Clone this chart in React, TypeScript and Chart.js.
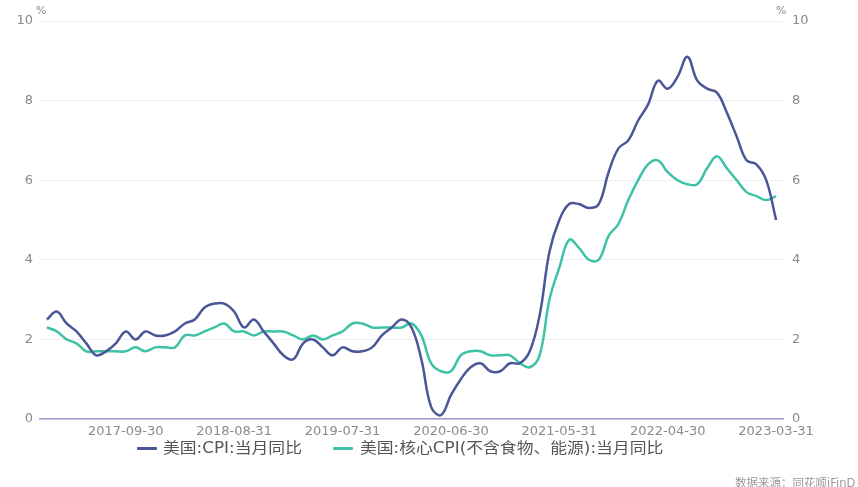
import React, { useEffect, useRef } from "react";
import { Chart, registerables } from "chart.js";

Chart.register(...registerables);

// Monthly categories: 2017-01 .. 2023-03 (month-end dates)
const startYear = 2017;
const monthCount = 75;
const categories: string[] = [];
for (let i = 0; i < monthCount; i++) {
  const y = startYear + Math.floor(i / 12);
  const m = (i % 12) + 1;
  const last = new Date(Date.UTC(y, m, 0)).getUTCDate();
  categories.push(`${y}-${String(m).padStart(2, "0")}-${String(last).padStart(2, "0")}`);
}

const tickLabels = ["2017-09-30", "2018-08-31", "2019-07-31", "2020-06-30", "2021-05-31", "2022-04-30", "2023-03-31"];
const yTicks = [0, 2, 4, 6, 8, 10];

const cpi = [
  2.5, 2.7, 2.4, 2.2, 1.9, 1.6, 1.7, 1.9, 2.2, 2.0, 2.2, 2.1,
  2.1, 2.2, 2.4, 2.5, 2.8, 2.9, 2.9, 2.7, 2.3, 2.5, 2.2, 1.9,
  1.6, 1.5, 1.9, 2.0, 1.8, 1.6, 1.8, 1.7, 1.7, 1.8, 2.1, 2.3,
  2.5, 2.3, 1.5, 0.3, 0.1, 0.6, 1.0, 1.3, 1.4, 1.2, 1.2, 1.4,
  1.4, 1.7, 2.6, 4.2, 5.0, 5.4, 5.4, 5.3, 5.4, 6.2, 6.8, 7.0,
  7.5, 7.9, 8.5, 8.3, 8.6, 9.1, 8.5, 8.3, 8.2, 7.7, 7.1, 6.5,
  6.4, 6.0, 5.0,
];

const coreCpi = [
  2.3, 2.2, 2.0, 1.9, 1.7, 1.7, 1.7, 1.7, 1.7, 1.8, 1.7, 1.8,
  1.8, 1.8, 2.1, 2.1, 2.2, 2.3, 2.4, 2.2, 2.2, 2.1, 2.2, 2.2,
  2.2, 2.1, 2.0, 2.1, 2.0, 2.1, 2.2, 2.4, 2.4, 2.3, 2.3, 2.3,
  2.3, 2.4, 2.1, 1.4, 1.2, 1.2, 1.6, 1.7, 1.7, 1.6, 1.6, 1.6,
  1.4, 1.3, 1.6, 3.0, 3.8, 4.5, 4.3, 4.0, 4.0, 4.6, 4.9, 5.5,
  6.0, 6.4, 6.5, 6.2, 6.0, 5.9, 5.9, 6.3, 6.6, 6.3, 6.0, 5.7,
  5.6, 5.5, 5.6,
];

const seriesNames = ["美国:CPI:当月同比", "美国:核心CPI(不含食物、能源):当月同比"];
const seriesColors = ["#4b5698", "#3ec2a6"];
const sourceText = "数据来源：同花顺iFinD";

const FONT = "'DejaVu Sans', 'Noto Sans CJK SC', sans-serif";

export default function App() {
  const ref = useRef<HTMLCanvasElement | null>(null);

  useEffect(() => {
    if (!ref.current) return;
    const tickIdx = tickLabels.map((t) => categories.indexOf(t));
    const chart = new Chart(ref.current, {
      type: "line",
      data: {
        datasets: [
          {
            label: seriesNames[0],
            data: cpi.map((v, i) => ({ x: i, y: v })),
            borderColor: seriesColors[0],
            backgroundColor: seriesColors[0],
            borderWidth: 2.5,
            pointRadius: 0,
            tension: 0.4,
            yAxisID: "y",
          },
          {
            label: seriesNames[1],
            data: coreCpi.map((v, i) => ({ x: i, y: v })),
            borderColor: seriesColors[1],
            backgroundColor: seriesColors[1],
            borderWidth: 2.5,
            pointRadius: 0,
            tension: 0.4,
            yAxisID: "y1",
          },
        ],
      },
      options: {
        responsive: false,
        animation: false,
        layout: { padding: { top: 21, left: 0, right: 0, bottom: 0 } },
        plugins: { legend: { display: false }, tooltip: { enabled: false } },
        scales: {
          x: {
            type: "linear",
            min: -0.7,
            max: monthCount - 1 + 0.7,
            grid: { display: false, drawTicks: false },
            border: { display: true, color: "#9a9dc4", width: 1.5 },
            ticks: {
              padding: 5,
              color: "#8a8a8a",
              font: { size: 13, family: FONT },
              maxRotation: 0,
              autoSkip: false,
              callback: (v: any) => categories[Number(v)] ?? "",
            },
            afterBuildTicks: (s: any) => {
              s.ticks = tickIdx.map((v) => ({ value: v }));
            },
            afterFit: (s: any) => {
              s.height = 68;
            },
          },
          y: {
            position: "left",
            min: 0,
            max: 10,
            grid: { color: "#eceef5", lineWidth: 1, drawTicks: false },
            border: { display: false },
            ticks: {
              padding: 7,
              color: "#8a8a8a",
              font: { size: 13, family: FONT },
              stepSize: 2,
            },
            afterBuildTicks: (s: any) => {
              s.ticks = yTicks.map((v) => ({ value: v }));
            },
            afterFit: (s: any) => {
              s.width = 40;
            },
          },
          y1: {
            position: "right",
            min: 0,
            max: 10,
            grid: { display: false, drawTicks: false },
            border: { display: false },
            ticks: {
              padding: 9,
              color: "#8a8a8a",
              font: { size: 13, family: FONT },
              stepSize: 2,
            },
            afterBuildTicks: (s: any) => {
              s.ticks = yTicks.map((v) => ({ value: v }));
            },
            afterFit: (s: any) => {
              s.width = 75;
            },
          },
        },
      },
    });
    return () => chart.destroy();
  }, []);

  const textStyle: React.CSSProperties = {
    position: "absolute",
    fontSize: 15,
    lineHeight: "20px",
    color: "#555",
    fontFamily: FONT,
    whiteSpace: "nowrap",
    transform: "scaleX(1.12)",
    transformOrigin: "left center",
  };

  return (
    <div style={{ position: "absolute", left: 0, top: 0, width: 858, height: 487, background: "#fff", overflow: "hidden" }}>
      <canvas ref={ref} width={858} height={487} style={{ position: "absolute", left: 0, top: 0 }} />
      <div style={{ position: "absolute", left: 36, top: 4, fontSize: 11, color: "#8a8a8a", fontFamily: FONT }}>%</div>
      <div style={{ position: "absolute", left: 776, top: 4, fontSize: 11, color: "#8a8a8a", fontFamily: FONT }}>%</div>
      <div style={{ position: "absolute", left: 137, top: 447, width: 20, height: 3, background: seriesColors[0], borderRadius: 1 }} />
      <div style={{ ...textStyle, left: 163, top: 438 }}>{seriesNames[0]}</div>
      <div style={{ position: "absolute", left: 333, top: 447, width: 20, height: 3, background: seriesColors[1], borderRadius: 1 }} />
      <div style={{ ...textStyle, left: 360, top: 438 }}>{seriesNames[1]}</div>
      <div style={{ position: "absolute", left: 735, top: 475, fontSize: 11.5, lineHeight: "16px", color: "#9a9a9a", fontFamily: FONT, whiteSpace: "nowrap" }}>
        {sourceText}
      </div>
    </div>
  );
}
